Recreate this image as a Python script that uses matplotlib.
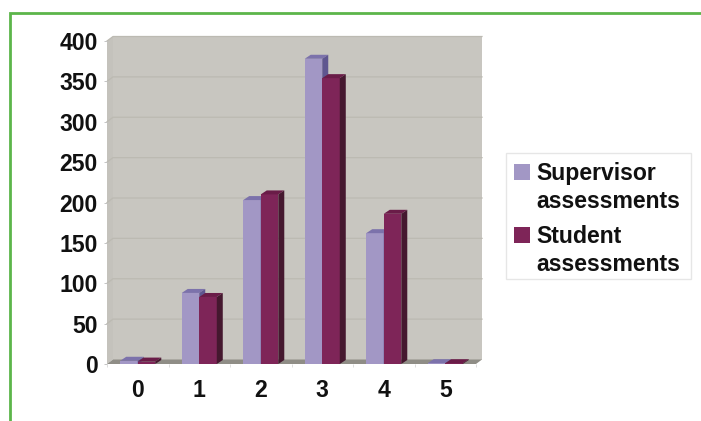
import matplotlib
matplotlib.use("Agg")
import matplotlib.pyplot as plt
from matplotlib.patches import Polygon, Rectangle

plt.rcParams['font.family'] = ['Liberation Sans', 'DejaVu Sans']

categories = ['0', '1', '2', '3', '4', '5']
supervisor = [4, 88, 203, 378, 162, 1]
student = [3, 83, 210, 354, 186, 1]
y_ticks = [0, 50, 100, 150, 200, 250, 300, 350, 400]
series_names = ['Supervisor\nassessments', 'Student\nassessments']

W, H = 701, 421
FS = 16.6
fig = plt.figure(figsize=(W / 100, H / 100), dpi=100, facecolor='white')

# pixel-space overlay for the frame and the legend
over = fig.add_axes([0, 0, 1, 1], zorder=3)
over.set_xlim(0, W)
over.set_ylim(H, 0)
over.axis('off')
over.patch.set_alpha(0)

# front plane of the 3D plot box
L, R, T, B = 107, 476, 41, 364
ax = fig.add_axes([L / W, 1 - B / H, (R - L) / W, (B - T) / H], zorder=1)
ax.set_xlim(0, 6)
ax.set_ylim(0, 400)
ax.patch.set_alpha(0)
for s in ax.spines.values():
    s.set_visible(False)

# depth offset of the box and of each bar, in data units
px_x = 6 / (R - L)
px_y = 400 / (B - T)
box_dx, box_dy = 6 * px_x, 4.5 * px_y
bar_dx, bar_dy = 6 * px_x, 4 * px_y

WALL = '#c8c6c0'
kw = dict(clip_on=False, linewidth=0)
ax.add_patch(Polygon([(box_dx, box_dy), (6 + box_dx, box_dy), (6 + box_dx, 400 + box_dy),
                      (box_dx, 400 + box_dy)], fc=WALL, zorder=1, **kw))
ax.add_patch(Polygon([(0, 0), (box_dx, box_dy), (box_dx, 400 + box_dy), (0, 400)],
                     fc='#c4c2bc', zorder=1, **kw))
ax.add_patch(Polygon([(0, 0), (6, 0), (6 + box_dx, box_dy), (box_dx, box_dy)],
                     fc='#8f8d86', zorder=2, **kw))

GRID = '#bcbab2'
for v in y_ticks[1:]:
    ax.plot([0, box_dx, 6 + box_dx], [v, v + box_dy, v + box_dy], color=GRID, lw=0.9,
            clip_on=False, zorder=1.5)

bar_w = 0.285


def bar3d(x0, v, face, top, side):
    ax.add_patch(Rectangle((x0, 0), bar_w, v, fc=face, zorder=4, **kw))
    ax.add_patch(Polygon([(x0, v), (x0 + bar_w, v), (x0 + bar_w + bar_dx, v + bar_dy),
                          (x0 + bar_dx, v + bar_dy)], fc=top, zorder=4, **kw))
    ax.add_patch(Polygon([(x0 + bar_w, 0), (x0 + bar_w + bar_dx, bar_dy),
                          (x0 + bar_w + bar_dx, v + bar_dy), (x0 + bar_w, v)],
                         fc=side, zorder=4, **kw))


for i in range(len(categories)):
    c = i + 0.5
    bar3d(c - bar_w, supervisor[i], '#a297c5', '#7c72ab', '#5f5690')
    bar3d(c, student[i], '#7e2558', '#6a1c48', '#45182f')

ax.set_yticks(y_ticks)
ax.set_yticklabels([str(v) for v in y_ticks], fontsize=FS, fontweight='bold', color='#111111')
ax.set_xticks([i + 0.5 for i in range(len(categories))])
ax.set_xticklabels(categories, fontsize=FS, fontweight='bold', color='#111111')
ax.tick_params(axis='y', length=2.5, width=0.7, color='#c4c4c4', pad=4)
ax.tick_params(axis='x', length=0, pad=11)
ax.set_xticks(range(7), minor=True)
ax.tick_params(axis='x', which='minor', length=2, width=0.6, color='#d8d8d8')

# green frame open to the right and bottom edges
over.plot([10, 10, W], [H, 13, 13], color='#5cb54a', lw=2.0, solid_joinstyle='miter')

# legend
over.add_patch(Rectangle((506, 153), 185, 126, fc='white', ec='#e6e6e6', lw=1))
colors = ['#a297c5', '#7e2558']
swatch_tops = [164, 227]
baselines = [180, 243]
for name, col, sy, by in zip(series_names, colors, swatch_tops, baselines):
    over.add_patch(Rectangle((514, sy), 16, 16, fc=col, lw=0))
    first, second = name.split('\n')
    over.text(536, by, first, fontsize=FS, fontweight='bold', color='#111111', va='baseline')
    over.text(536, by + 28, second, fontsize=FS, fontweight='bold', color='#111111', va='baseline')

fig.savefig('out.png', dpi=100, facecolor='white')
